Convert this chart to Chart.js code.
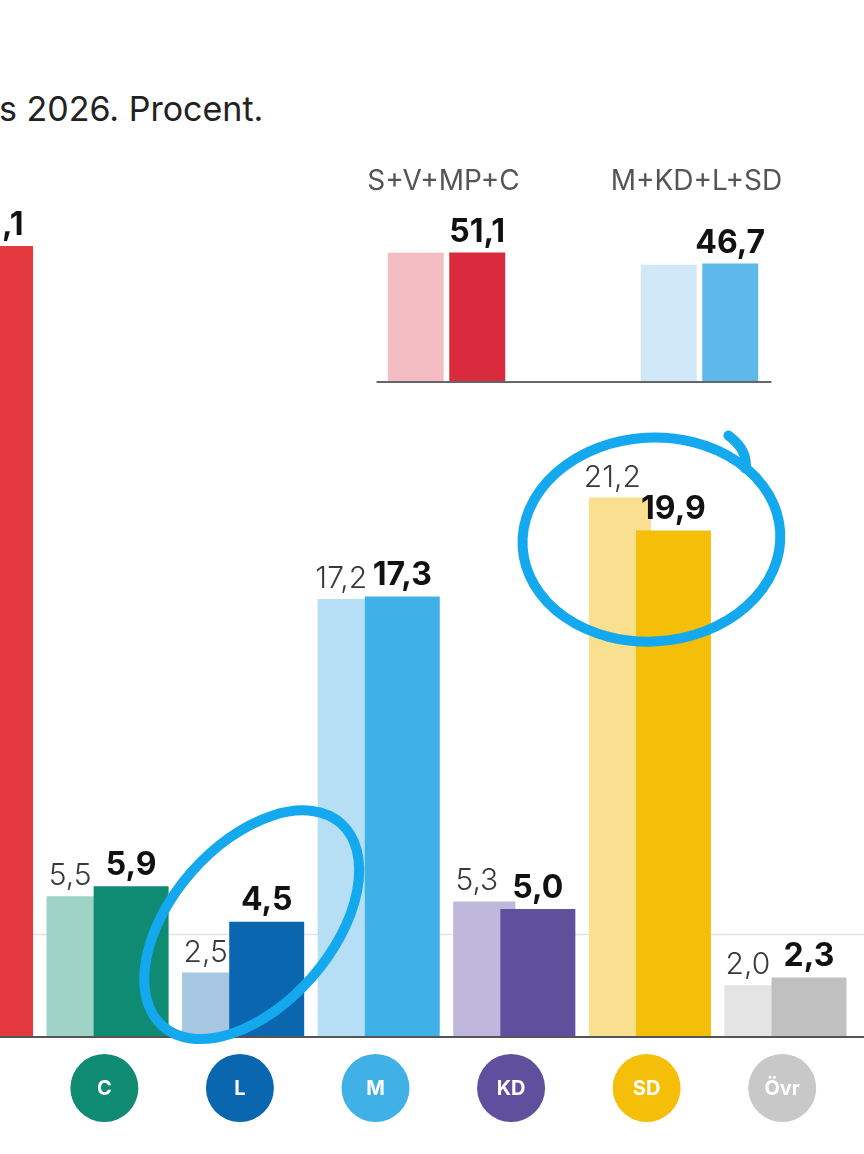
<!DOCTYPE html>
<html lang="sv">
<head>
<meta charset="utf-8">
<title>Väljarbarometer 2026</title>
<script src="https://cdn.jsdelivr.net/npm/chart.js@4.4.1/dist/chart.umd.min.js"></script>
<style>
  html, body { margin: 0; padding: 0; background: #fff; }
  body { width: 864px; height: 1154px; overflow: hidden; position: relative; font-family: Inter, 'Open Sans', sans-serif; }
  #title { position: absolute; left: -1px; top: 88px; font-size: 34px; color: #222; white-space: nowrap; }
  #main-wrap { position: absolute; left: -99px; top: 0; }
  #bloc-wrap { position: absolute; left: 320px; top: 150px; }
</style>
</head>
<body>
<div id="title">s 2026. Procent.</div>
<div id="main-wrap"><canvas id="party-chart" width="964" height="1154"></canvas></div>
<div id="bloc-wrap"><canvas id="bloc-chart" width="506" height="233"></canvas></div>
<script>
// parties, previous poll vs this poll (S is cut off at the left edge)
const parties = ['S', 'C', 'L', 'M', 'KD', 'SD', 'Övr']
const previous = [null, 5.5, 2.5, 17.2, 5.3, 21.2, 2.0]
const current = [31.1, 5.9, 4.5, 17.3, 5.0, 19.9, 2.3]
const threshold = 4

const blocs = ['S+V+MP+C', 'M+KD+L+SD']
const blocPrevious = [51.0, 46.2]
const blocCurrent = [51.1, 46.7]

const partyColors = {
  S: ['#f2b8bd', '#e3393f'],
  C: ['#9fd3c7', '#0f8a73'],
  L: ['#a7c6e1', '#0b66b0'],
  M: ['#b6def4', '#40b1e6'],
  KD: ['#bfb6dc', '#5f4f9d'],
  SD: ['#f9df90', '#f5be08'],
  'Övr': ['#e4e4e4', '#c0c0c0']
}
const badgeColors = { S: '#e3393f', C: '#0f8a73', L: '#0b66b0', M: '#40b1e6', KD: '#5f4f9d', SD: '#f5be08', 'Övr': '#c8c8c8' }

const fmt = v => v.toFixed(1).replace('.', ',')

// new poll bar sits in front of the old one
const frontOrder = {
  id: 'frontOrder',
  beforeDatasetDraw(chart, args) {
    if (args.index === 0) return false
    if (args.index === 1) chart.getDatasetMeta(0).controller.draw()
  }
}

const guideLines = {
  id: 'guideLines',
  beforeDatasetsDraw(chart) {
    const { ctx, scales: { y } } = chart
    const yt = Math.round(y.getPixelForValue(threshold)) + 0.5
    ctx.save()
    ctx.strokeStyle = '#e2e2e2'
    ctx.lineWidth = 1.5
    ctx.beginPath()
    ctx.moveTo(0, yt)
    ctx.lineTo(chart.width, yt)
    ctx.stroke()
    ctx.restore()
  },
  afterDatasetsDraw(chart) {
    const { ctx, scales: { y } } = chart
    const y0 = y.getPixelForValue(0)
    ctx.save()
    ctx.strokeStyle = '#555'
    ctx.lineWidth = 2
    ctx.beginPath()
    ctx.moveTo(0, y0 + 1)
    ctx.lineTo(chart.width, y0 + 1)
    ctx.stroke()
    ctx.restore()
  }
}

const valueLabels = {
  id: 'valueLabels',
  afterDatasetsDraw(chart) {
    const { ctx } = chart
    const prevMeta = chart.getDatasetMeta(0)
    const currMeta = chart.getDatasetMeta(1)
    ctx.save()
    ctx.textAlign = 'center'
    ctx.textBaseline = 'bottom'
    current.forEach((v, i) => {
      const dark = currMeta.data[i]
      ctx.fillStyle = '#111'
      ctx.font = 'bold 32px Inter, sans-serif'
      ctx.fillText(fmt(v), dark.x, dark.y - 5)
      const p = previous[i]
      if (p == null) return
      const light = prevMeta.data[i]
      const lightLeft = light.x - light.width / 2
      const darkLeft = dark.x - dark.width / 2
      ctx.fillStyle = '#3a3a3a'
      ctx.font = '300 30px Inter, sans-serif'
      ctx.fillText(fmt(p), (lightLeft + darkLeft) / 2, light.y - 5)
    })
    ctx.restore()
  }
}

const partyBadges = {
  id: 'partyBadges',
  afterDraw(chart) {
    const { ctx, scales: { x, y } } = chart
    const cy = y.getPixelForValue(0) + 52
    const pageLeft = 99
    ctx.save()
    ctx.textAlign = 'center'
    ctx.textBaseline = 'middle'
    ctx.font = 'bold 20px Inter, sans-serif'
    parties.forEach((p, i) => {
      const cx = x.getPixelForValue(i)
      if (cx < pageLeft) return // badge is off the page in the photo
      ctx.fillStyle = badgeColors[p]
      ctx.beginPath()
      ctx.arc(cx, cy, 34, 0, Math.PI * 2)
      ctx.fill()
      ctx.fillStyle = '#fff'
      ctx.fillText(p, cx, cy + 1)
    })
    ctx.restore()
  }
}

// the hand drawn blue rings from the photo
const handCircles = {
  id: 'handCircles',
  afterDraw(chart) {
    const { ctx } = chart
    const currMeta = chart.getDatasetMeta(1)
    const l = currMeta.data[parties.indexOf('L')]
    const sd = currMeta.data[parties.indexOf('SD')]
    ctx.save()
    ctx.strokeStyle = '#14a9ee'
    ctx.lineWidth = 10
    ctx.lineCap = 'round'
    ctx.beginPath()
    ctx.ellipse(sd.x - 22, sd.y + 9, 129, 102, -0.06, 0, Math.PI * 2)
    ctx.stroke()
    ctx.beginPath()
    ctx.moveTo(sd.x + 55, sd.y - 95)
    ctx.quadraticCurveTo(sd.x + 75, sd.y - 80, sd.x + 72, sd.y - 62)
    ctx.stroke()
    ctx.beginPath()
    ctx.ellipse(l.x - 15, l.y + 3, 135, 80, -0.85, 0, Math.PI * 2)
    ctx.stroke()
    ctx.restore()
  }
}

function initPartyChart() {
  const ctx = document.getElementById('party-chart')
  new Chart(ctx, {
    type: 'bar',
    data: {
      labels: parties,
      datasets: [{
        label: 'Förra mätningen',
        data: previous,
        backgroundColor: parties.map(p => partyColors[p][0]),
        barPercentage: 1.16,
        categoryPercentage: 0.79
      }, {
        label: 'Nu',
        data: current,
        backgroundColor: parties.map(p => partyColors[p][1]),
        barPercentage: 1.4,
        categoryPercentage: 0.79
      }]
    },
    options: {
      responsive: false,
      animation: false,
      layout: { padding: { top: 20, bottom: 118, left: 0, right: 15 } },
      plugins: {
        legend: { display: false },
        tooltip: { enabled: false }
      },
      scales: {
        x: { display: false },
        y: { display: false, min: 0, max: 40 }
      }
    },
    plugins: [frontOrder, guideLines, valueLabels, partyBadges, handCircles]
  })
}

const blocDecor = {
  id: 'blocDecor',
  afterDatasetsDraw(chart) {
    const { ctx, scales: { x, y } } = chart
    const y0 = y.getPixelForValue(0)
    ctx.save()
    ctx.strokeStyle = '#666'
    ctx.lineWidth = 2
    ctx.beginPath()
    ctx.moveTo(x.getPixelForValue(0) - 70, y0 + 1)
    ctx.lineTo(x.getPixelForValue(blocs.length - 1) + 72, y0 + 1)
    ctx.stroke()

    ctx.textAlign = 'center'
    const meta = chart.getDatasetMeta(1)
    blocs.forEach((b, i) => {
      ctx.fillStyle = '#555'
      ctx.font = '28px Inter, sans-serif'
      ctx.textBaseline = 'alphabetic'
      ctx.fillText(b, x.getPixelForValue(i) - 3, 40)
      const bar = meta.data[i]
      ctx.fillStyle = '#111'
      ctx.font = 'bold 32px Inter, sans-serif'
      ctx.textBaseline = 'bottom'
      ctx.fillText(fmt(blocCurrent[i]), bar.x, bar.y - 4)
    })
    ctx.restore()
  }
}

function initBlocChart() {
  const ctx = document.getElementById('bloc-chart')
  new Chart(ctx, {
    type: 'bar',
    data: {
      labels: blocs,
      datasets: [{
        label: 'Förra mätningen',
        data: blocPrevious,
        backgroundColor: ['#f3bdc3', '#d0e8f7'],
        barPercentage: 0.91,
        categoryPercentage: 0.486
      }, {
        label: 'Nu',
        data: blocCurrent,
        backgroundColor: ['#d92b3d', '#5cb9e9'],
        barPercentage: 0.91,
        categoryPercentage: 0.486
      }]
    },
    options: {
      responsive: false,
      animation: false,
      layout: { padding: { top: 80, bottom: 2 } },
      plugins: {
        legend: { display: false },
        tooltip: { enabled: false }
      },
      scales: {
        x: { display: false },
        y: { display: false, min: 0, max: 60 }
      }
    },
    plugins: [blocDecor]
  })
}

initPartyChart()
initBlocChart()
</script>
</body>
</html>
